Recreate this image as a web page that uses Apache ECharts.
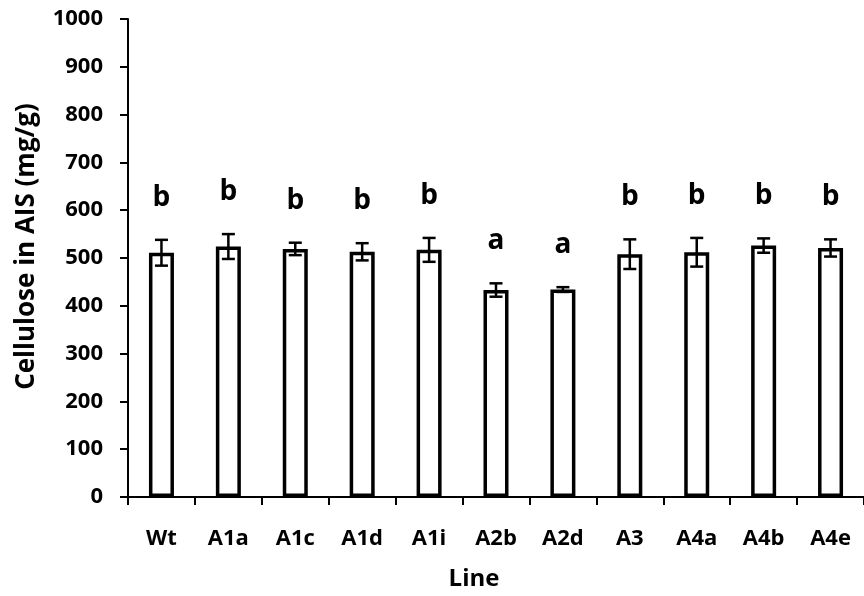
<!DOCTYPE html>
<html>
<head>
<meta charset="utf-8">
<script src="https://cdn.jsdelivr.net/npm/echarts@6/dist/echarts.min.js"></script>
<style>
html,body{margin:0;padding:0;background:#fff;}
#chart{width:864px;height:596px;}
</style>
</head>
<body>
<div id="chart"></div>
<script>
const categories = ['Wt','A1a','A1c','A1d','A1i','A2b','A2d','A3','A4a','A4b','A4e'];
const values = [511, 524, 519, 513, 517, 433, 434, 508, 512, 526, 521];
const errors = [27, 26, 13, 18, 25, 14, 5, 31, 30, 15, 18];
const letters = ['b','b','b','b','b','a','a','b','b','b','b'];
const yTicks = [0,100,200,300,400,500,600,700,800,900,1000];

const FONT = 'Open Sans';
const chart = echarts.init(document.getElementById('chart'));

chart.setOption({
  backgroundColor: '#fff',
  animation: false,
  grid: { left: 128, top: 19, width: 740, height: 481 },
  xAxis: {
    type: 'category',
    data: categories,
    boundaryGap: true,
    name: 'Line',
    nameLocation: 'middle',
    nameGap: 70,
    nameTextStyle: { fontFamily: FONT, fontWeight: 'bold', fontSize: 24, color: '#000', padding: [0, 44, 0, 0] },
    axisLine: { lineStyle: { color: '#000', width: 2 } },
    axisTick: { show: true, alignWithLabel: false, length: 8, lineStyle: { color: '#000', width: 2 } },
    axisLabel: { fontFamily: FONT, fontWeight: 'bold', fontSize: 22, color: '#000', margin: 31 },
    splitLine: { show: false }
  },
  yAxis: {
    type: 'value',
    min: yTicks[0],
    max: yTicks[yTicks.length - 1],
    interval: 100,
    name: 'Cellulose in AIS (mg/g)',
    nameLocation: 'middle',
    nameGap: 88,
    nameRotate: 90,
    nameTextStyle: { fontFamily: FONT, fontWeight: 'bold', fontSize: 26, color: '#000', padding: [0, 0, 0, 23] },
    axisLine: { show: true, lineStyle: { color: '#000', width: 2 } },
    axisTick: { show: true, length: 8, lineStyle: { color: '#000', width: 2 } },
    axisLabel: { fontFamily: FONT, fontWeight: 'bold', fontSize: 22, color: '#000', margin: 25,
      formatter: function (v) { return String(v); } },
    splitLine: { show: false }
  },
  series: [
    {
      type: 'bar',
      data: values,
      barWidth: 25,
      itemStyle: { color: '#fff', borderColor: '#000', borderWidth: 3.5 }
    },
    {
      type: 'custom',
      data: values.map((v, i) => [i, v, errors[i]]),
      renderItem: function (params, api) {
        const i = api.value(0);
        const v = api.value(1);
        const e = api.value(2);
        const top = api.coord([i, v + e]);
        const bot = api.coord([i, v - e]);
        const half = 6.5;
        const ls = { stroke: '#000', lineWidth: 2.5 };
        return {
          type: 'group',
          children: [
            { type: 'line', shape: { x1: top[0], y1: top[1], x2: bot[0], y2: bot[1] }, style: ls },
            { type: 'line', shape: { x1: top[0] - half, y1: top[1], x2: top[0] + half, y2: top[1] }, style: ls },
            { type: 'line', shape: { x1: bot[0] - half, y1: bot[1], x2: bot[0] + half, y2: bot[1] }, style: ls },
            { type: 'text', x: top[0], y: top[1] - 42,
              style: { text: letters[i], fontFamily: FONT, fontWeight: 'bold', fontSize: 28, fill: '#000', align: 'center', verticalAlign: 'middle' } }
          ]
        };
      },
      z: 5
    }
  ]
});
</script>
</body>
</html>
